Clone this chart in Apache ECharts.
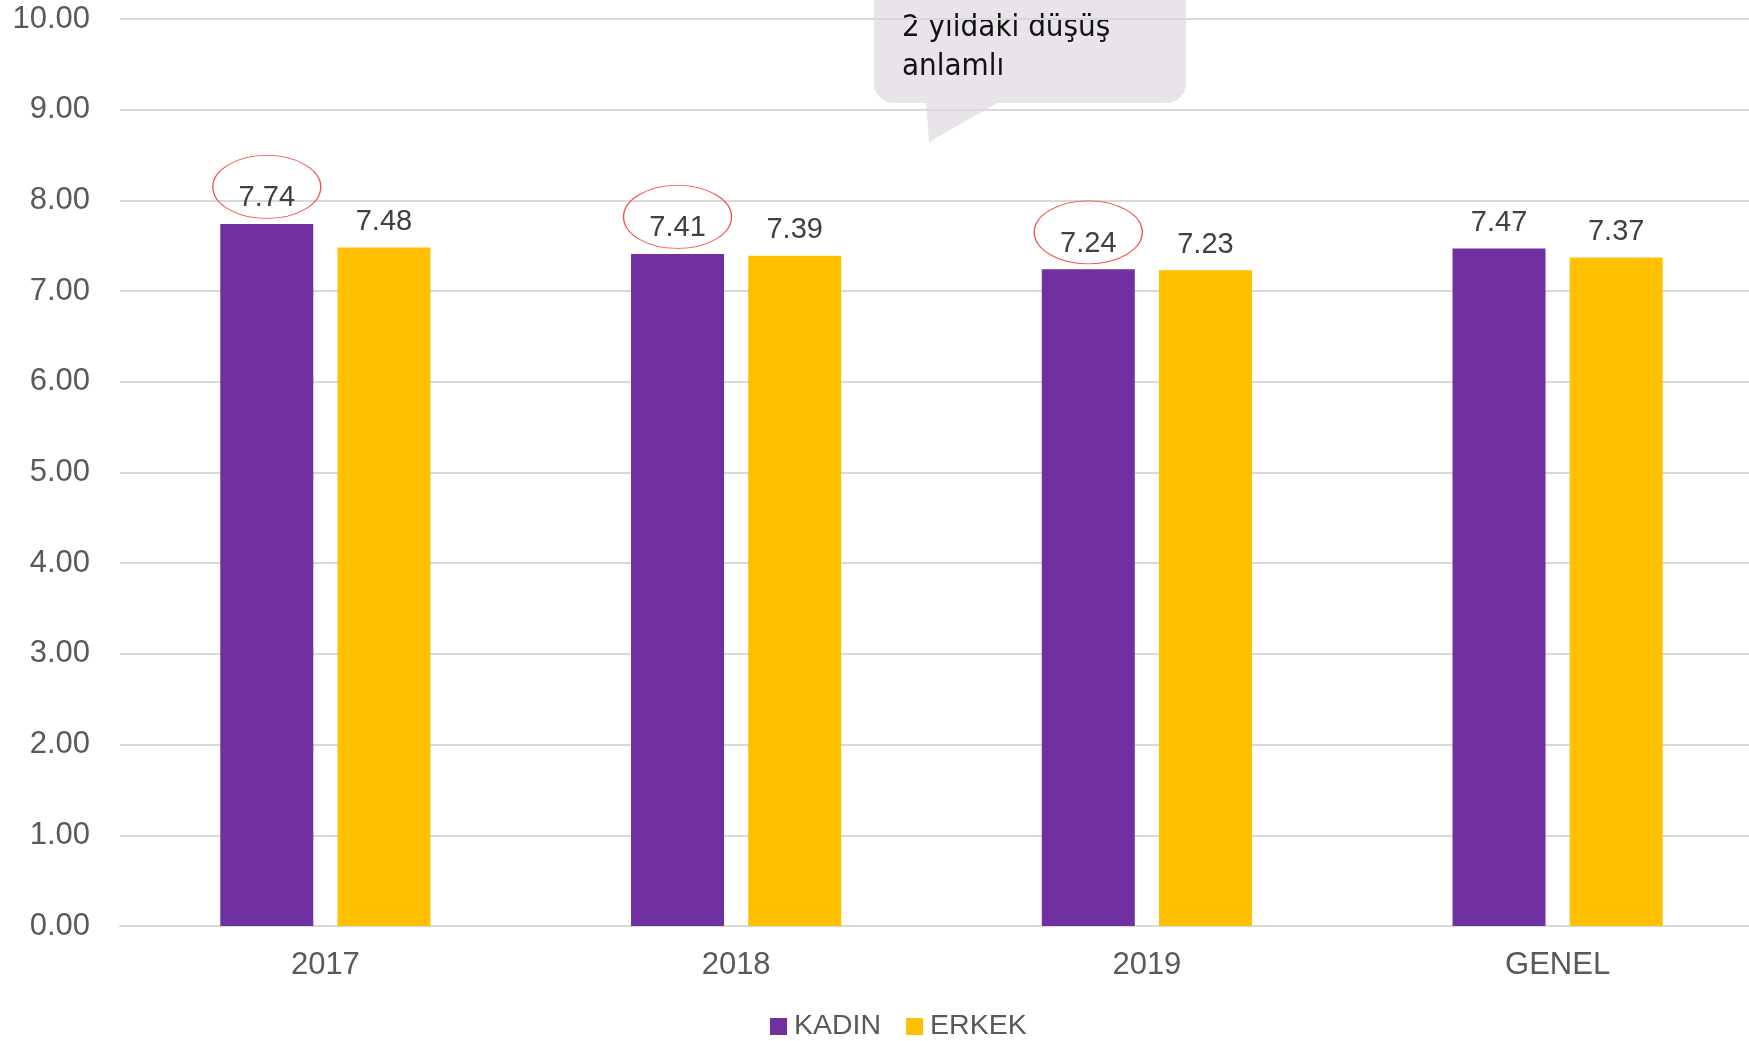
<!DOCTYPE html>
<html>
<head>
<meta charset="utf-8">
<script src="https://cdn.jsdelivr.net/npm/echarts@6/dist/echarts.min.js"></script>
<style>
html,body{margin:0;padding:0;background:#fff;}
#main{width:1749px;height:1041px;}
</style>
</head>
<body>
<div id="main"></div>
<script>
const categories = ['2017', '2018', '2019', 'GENEL'];
const kadin = [7.74, 7.41, 7.24, 7.47];
const erkek = [7.48, 7.39, 7.23, 7.37];
const seriesNames = ['KADIN', 'ERKEK'];
const highlighted = [0, 1, 2]; // KADIN labels circled
const calloutText = '2 yıldaki düşüş\nanlamlı';

const chart = echarts.init(document.getElementById('main'), null, {renderer: 'canvas'});
const labelFont = '"Liberation Sans", Arial, sans-serif';

const option = {
  animation: false,
  backgroundColor: '#ffffff',
  grid: {left: 120, width: 1643, top: 19, bottom: 115, containLabel: false, outerBoundsMode: 'none'},
  legend: {
    data: seriesNames,
    left: 770,
    top: 1012,
    padding: 0,
    icon: 'rect',
    itemWidth: 17,
    itemHeight: 17,
    itemGap: 25,
    textStyle: {fontSize: 28.5, color: '#595959', fontFamily: labelFont, padding: [0, 0, 0, 2]}
  },
  xAxis: {
    type: 'category',
    data: categories,
    axisLine: {lineStyle: {color: '#D9D9D9', width: 2}},
    axisTick: {show: false},
    axisLabel: {fontSize: 31, color: '#595959', fontFamily: labelFont, margin: 24}
  },
  yAxis: {
    type: 'value',
    min: 0,
    max: 10,
    interval: 1,
    axisLine: {show: false},
    axisTick: {show: false},
    splitLine: {lineStyle: {color: '#D9D9D9', width: 2}},
    axisLabel: {
      fontSize: 31, color: '#595959', fontFamily: labelFont, margin: 30,
      formatter: v => v.toFixed(2)
    }
  },
  series: [
    {
      name: seriesNames[0],
      type: 'bar',
      data: kadin,
      barWidth: 93,
      barGap: '26%',
      itemStyle: {color: '#7030A0'},
      label: {
        show: true, position: 'top', distance: 11,
        fontSize: 29, color: '#404040', fontFamily: labelFont,
        formatter: p => p.value.toFixed(2)
      },
      markPoint: {
        symbol: 'circle',
        symbolSize: [108, 63],
        symbolOffset: [0, -37],
        silent: true,
        label: {show: false},
        itemStyle: {color: 'rgba(0,0,0,0)', borderColor: '#F24B4B', borderWidth: 1},
        data: highlighted.map(i => ({coord: [i, kadin[i]]}))
      }
    },
    {
      name: seriesNames[1],
      type: 'bar',
      data: erkek,
      barWidth: 93,
      barGap: '26%',
      itemStyle: {color: '#FFC000'},
      label: {
        show: true, position: 'top', distance: 11,
        fontSize: 29, color: '#404040', fontFamily: labelFont,
        formatter: p => p.value.toFixed(2)
      }
    }
  ],
  graphic: [
    {
      type: 'group',
      z: 100,
      children: [
        {
          type: 'rect',
          shape: {x: 874, y: -30, width: 312, height: 133, r: 20},
          style: {fill: '#E8E4EA'}
        },
        {
          type: 'polygon',
          shape: {points: [[926, 100], [1003, 100], [929, 142]]},
          style: {fill: '#E8E4EA'}
        },
        {
          type: 'text',
          x: 902,
          y: 8,
          style: {
            text: calloutText,
            font: '31px "DejaVu Sans Condensed", "DejaVu Sans", sans-serif',
            lineHeight: 39,
            fill: '#111111',
            verticalAlign: 'top'
          }
        }
      ]
    }
  ]
};
chart.setOption(option);
</script>
</body>
</html>
